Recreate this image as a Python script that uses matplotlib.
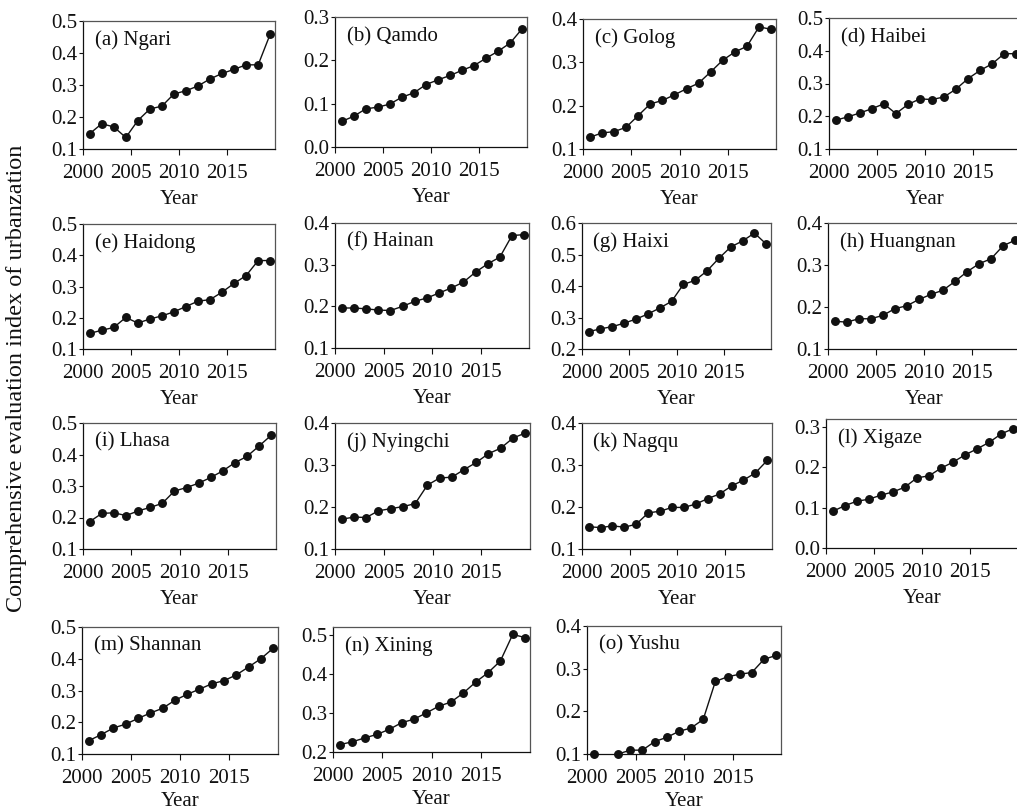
import numpy as np
import matplotlib
matplotlib.use("Agg")
import matplotlib.pyplot as plt

plt.rcParams['font.family'] = ['Liberation Serif', 'DejaVu Serif']

# comprehensive urbanization index, 16 observations per prefecture
n_obs = 16
year_pos = np.linspace(2000.7, 2019.5, n_obs)

names = ["(a) Ngari", "(b) Qamdo", "(c) Golog", "(d) Haibei",
         "(e) Haidong", "(f) Hainan", "(g) Haixi", "(h) Huangnan",
         "(i) Lhasa", "(j) Nyingchi", "(k) Nagqu", "(l) Xigaze",
         "(m) Shannan", "(n) Xining", "(o) Yushu"]

ngari = [0.148, 0.179, 0.169, 0.136, 0.189, 0.225, 0.234, 0.272,
         0.282, 0.297, 0.319, 0.336, 0.349, 0.363, 0.363, 0.459]
qamdo = [0.059, 0.071, 0.088, 0.092, 0.099, 0.115, 0.125, 0.144,
         0.155, 0.165, 0.177, 0.188, 0.205, 0.221, 0.240, 0.273]
golog = [0.127, 0.137, 0.140, 0.150, 0.177, 0.204, 0.212, 0.225,
         0.239, 0.252, 0.278, 0.305, 0.324, 0.337, 0.382, 0.376]
haibei = [0.188, 0.198, 0.210, 0.223, 0.238, 0.208, 0.236, 0.253,
          0.251, 0.259, 0.283, 0.315, 0.340, 0.360, 0.391, 0.391]
haidong = [0.150, 0.160, 0.169, 0.201, 0.183, 0.196, 0.206, 0.219,
           0.236, 0.253, 0.258, 0.282, 0.310, 0.335, 0.383, 0.383]
hainan = [0.196, 0.196, 0.194, 0.191, 0.190, 0.200, 0.212, 0.220,
          0.232, 0.244, 0.258, 0.282, 0.302, 0.318, 0.370, 0.372]
haixi = [0.255, 0.264, 0.271, 0.282, 0.295, 0.311, 0.330, 0.351,
         0.405, 0.418, 0.448, 0.488, 0.524, 0.543, 0.568, 0.533]
huangnan = [0.166, 0.164, 0.172, 0.172, 0.180, 0.196, 0.203, 0.218,
            0.230, 0.240, 0.261, 0.284, 0.303, 0.315, 0.346, 0.359]
lhasa = [0.187, 0.213, 0.215, 0.206, 0.221, 0.232, 0.245, 0.284,
         0.295, 0.309, 0.327, 0.348, 0.374, 0.394, 0.427, 0.461]
nyingchi = [0.171, 0.176, 0.175, 0.191, 0.196, 0.201, 0.208, 0.252,
            0.269, 0.271, 0.289, 0.306, 0.327, 0.340, 0.364, 0.376]
nagqu = [0.153, 0.151, 0.155, 0.152, 0.159, 0.186, 0.190, 0.199,
         0.199, 0.207, 0.220, 0.231, 0.250, 0.264, 0.281, 0.311]
xigaze = [0.091, 0.105, 0.116, 0.121, 0.131, 0.139, 0.151, 0.174,
          0.179, 0.198, 0.213, 0.231, 0.246, 0.262, 0.283, 0.296]
shannan = [0.142, 0.161, 0.182, 0.194, 0.212, 0.229, 0.244, 0.269,
           0.288, 0.304, 0.321, 0.331, 0.349, 0.374, 0.400, 0.433]
xining = [0.219, 0.226, 0.236, 0.245, 0.258, 0.275, 0.284, 0.300,
          0.317, 0.328, 0.351, 0.379, 0.403, 0.433, 0.501, 0.493]
yushu = [0.100, 0.094, 0.100, 0.109, 0.109, 0.129, 0.139, 0.153,
         0.161, 0.181, 0.270, 0.281, 0.287, 0.291, 0.322, 0.331]

series = [ngari, qamdo, golog, haibei, haidong, hainan, haixi, huangnan,
          lhasa, nyingchi, nagqu, xigaze, shannan, xining, yushu]

# y range of each panel
y_ranges = [(0.1, 0.5), (0.0, 0.3), (0.1, 0.4), (0.1, 0.5),
            (0.1, 0.5), (0.1, 0.4), (0.2, 0.6), (0.1, 0.4),
            (0.1, 0.5), (0.1, 0.4), (0.1, 0.4), (0.0, 0.32),
            (0.1, 0.5), (0.2, 0.52), (0.1, 0.4)]

x_ticks = [2000, 2005, 2010, 2015]

# panel boxes in pixels: left, top, right, bottom
W, H = 1017, 811
boxes = [(83, 21, 275, 149), (335, 17, 527, 147), (583, 19, 776, 149), (829, 18, 1021, 149),
         (83, 224, 275, 349), (335, 223, 529, 348), (582, 223, 771, 349), (828, 223, 1020, 349),
         (83, 423, 276, 549), (335, 423, 530, 549), (582, 423, 772, 549), (826, 419, 1018, 548),
         (82, 627, 278, 754), (333, 627, 530, 752), (587, 626, 781, 754)]

ink = '#111111'

fig = plt.figure(figsize=(W / 100, H / 100), dpi=100)

for i, (name, vals, (y0, y1), (l, t, r, b)) in enumerate(zip(names, series, y_ranges, boxes)):
    ax = fig.add_axes([l / W, 1 - b / H, (r - l) / W, (b - t) / H])
    vals = np.asarray(vals)
    ax.plot(year_pos, vals, color=ink, lw=1.0, zorder=2)
    # dots below the axis floor are left out, the rest may overlap the frame
    keep = vals >= y0 - 1e-9
    ax.plot(year_pos[keep], vals[keep], ls='none', marker='o', markersize=5.4,
            color=ink, clip_on=False, zorder=3)
    ax.set_xlim(2000, 2020)
    ax.set_ylim(y0, y1)
    ax.set_xticks(x_ticks)
    ax.set_yticks(np.arange(y0, y1 + 1e-9, 0.1).round(1))
    ax.yaxis.set_major_formatter(matplotlib.ticker.FormatStrFormatter('%.1f'))
    ax.tick_params(direction='out', width=0.8, labelsize=15, colors=ink)
    ax.tick_params(axis='x', length=4, pad=7)
    ax.tick_params(axis='y', length=3, pad=1)
    for side in ['left', 'bottom']:
        ax.spines[side].set_color(ink)
        ax.spines[side].set_linewidth(0.9)
    for side in ['top', 'right']:
        ax.spines[side].set_color('#555555')
        ax.spines[side].set_linewidth(0.9)
    # bottom row sits close to the lower edge
    ax.set_xlabel('Year', fontsize=15, color=ink, labelpad=3 if i >= 12 else 5)
    ax.text(0.06, 0.85, name, transform=ax.transAxes, fontsize=15,
            color=ink, va='center', ha='left')

fig.text(0.016, 1 - 378 / H, 'Comprehensive evaluation index of urbanzation',
         rotation=90, fontsize=17.5, color=ink, va='center', ha='center')

fig.savefig('out.png', dpi=100)
